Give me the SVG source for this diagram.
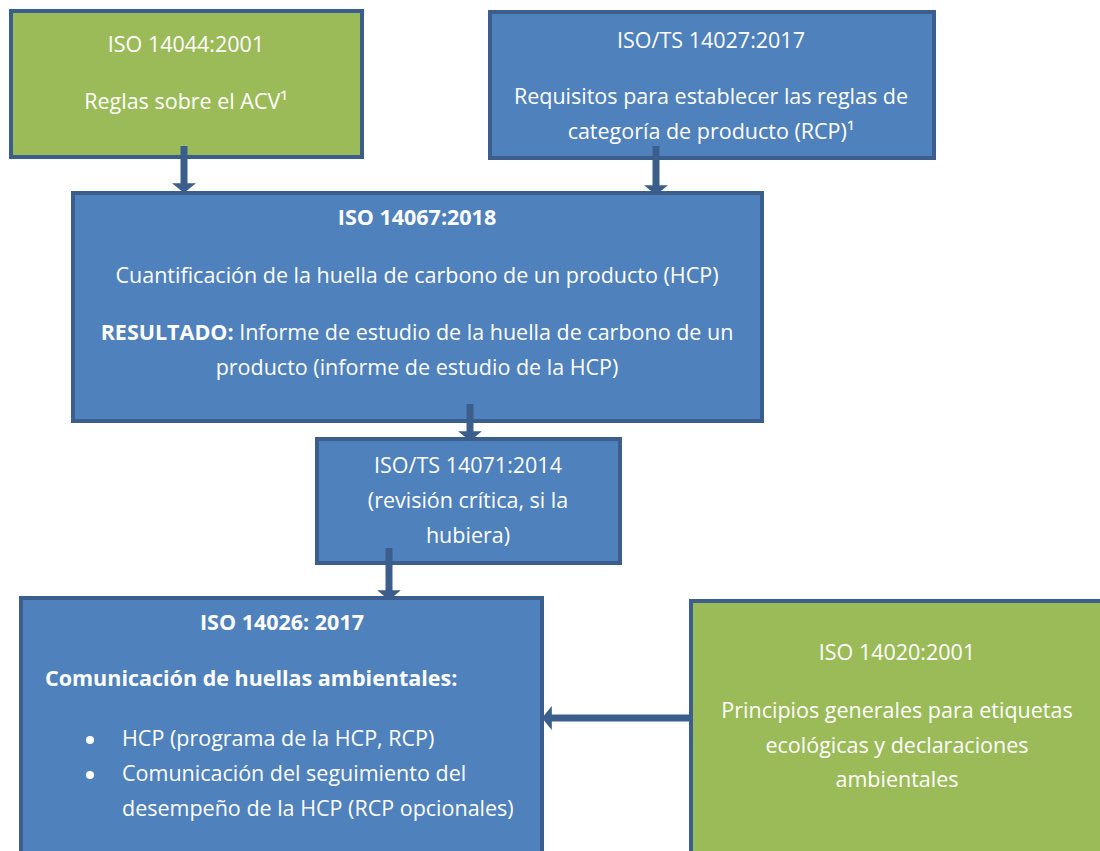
<svg xmlns="http://www.w3.org/2000/svg" width="1100" height="851" viewBox="0 0 1100 851">
<style>
.box{stroke:#3B5E8C;stroke-width:4}
.blue{fill:#4F81BD}
.green{fill:#9BBB59}
text{font-family:"Open Sans","Liberation Sans",sans-serif;font-size:21.5px;fill:#fff}
.c{text-anchor:middle}
.b{font-weight:bold}
.con{stroke:#3B5E8C;stroke-width:7;fill:none}
</style>
<defs>
<marker id="ah" markerWidth="1.4" markerHeight="3.4" refX="0.4" refY="1.7" orient="auto" markerUnits="strokeWidth">
<path d="M0,0 L1.4,1.7 L0,3.4 z" fill="#3B5E8C"/>
</marker>
</defs>
<rect width="1100" height="851" fill="#fff"/>
<g id="n1">
<rect class="box green" x="11" y="11" width="351" height="146"/>
<text class="c" x="186" y="52">ISO 14044:2001</text>
<text class="c" x="186" y="109">Reglas sobre el ACV¹</text>
</g>
<g id="n2">
<rect class="box blue" x="490" y="12" width="444" height="146"/>
<text class="c" x="711" y="48">ISO/TS 14027:2017</text>
<text class="c" x="711" y="104">Requisitos para establecer las reglas de</text>
<text class="c" x="711" y="139">categoría de producto (RCP)¹</text>
</g>
<g id="n3">
<rect class="box blue" x="73" y="193" width="689" height="228"/>
<text class="c b" x="417" y="225">ISO 14067:2018</text>
<text class="c" x="417" y="283">Cuantificación de la huella de carbono de un producto (HCP)</text>
<text class="c" x="417" y="340"><tspan class="b">RESULTADO:</tspan> Informe de estudio de la huella de carbono de un</text>
<text class="c" x="417" y="375">producto (informe de estudio de la HCP)</text>
</g>
<g id="n4">
<rect class="box blue" x="317" y="439" width="303" height="124"/>
<text class="c" x="468" y="473">ISO/TS 14071:2014</text>
<text class="c" x="468" y="508">(revisión crítica, si la</text>
<text class="c" x="468" y="543">hubiera)</text>
</g>
<g id="n5">
<rect class="box blue" x="21" y="598" width="521" height="270"/>
<text class="c b" x="282" y="630">ISO 14026: 2017</text>
<text class="b" x="45" y="686">Comunicación de huellas ambientales:</text>
<circle cx="90" cy="740" r="4" fill="#fff"/>
<circle cx="90" cy="775" r="4" fill="#fff"/>
<text x="122" y="746">HCP (programa de la HCP, RCP)</text>
<text x="122" y="781">Comunicación del seguimiento del</text>
<text x="122" y="816">desempeño de la HCP (RCP opcionales)</text>
</g>
<g id="n6">
<rect class="box green" x="691" y="601" width="420" height="270"/>
<text class="c" x="897" y="660">ISO 14020:2001</text>
<text class="c" x="897" y="718">Principios generales para etiquetas</text>
<text class="c" x="897" y="753">ecológicas y declaraciones</text>
<text class="c" x="897" y="787">ambientales</text>
</g>
<g id="connectors">
<line class="con" x1="184" y1="146" x2="184" y2="186" marker-end="url(#ah)"/>
<line class="con" x1="656" y1="146" x2="656" y2="188" marker-end="url(#ah)"/>
<line class="con" x1="470" y1="404" x2="470" y2="434" marker-end="url(#ah)"/>
<line class="con" x1="389" y1="548" x2="389" y2="593" marker-end="url(#ah)"/>
<line class="con" x1="689" y1="718" x2="549" y2="718" marker-end="url(#ah)"/>
</g>
</svg>
